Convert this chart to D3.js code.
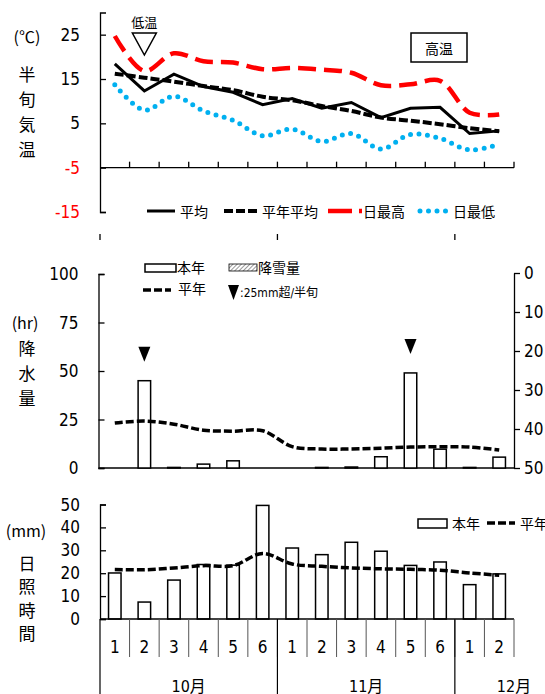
<!DOCTYPE html>
<html lang="ja">
<head>
<meta charset="UTF-8">
<title>半旬気象</title>
<script src="https://cdnjs.cloudflare.com/ajax/libs/d3/7.8.5/d3.min.js"></script>
<style>
  body { margin: 0; background: #fff; }
  svg { display: block; }
  .num { font-family: "Liberation Sans Narrow", "DejaVu Sans Condensed", "Noto Sans CJK JP", sans-serif; }
  .jp { font-family: "Noto Sans CJK JP", sans-serif; }
</style>
</head>
<body>
<svg id="chart" width="545" height="694"></svg>
<script>
// half-month periods (Oct 1 .. Dec 2)
const periods = ['1', '2', '3', '4', '5', '6', '1', '2', '3', '4', '5', '6', '1', '2'];
const monthLabels = ['10月', '11月', '12月'];
const monthSpans = [6, 6, 2];

// temperature (°C)
const tempMean = [18.4, 12.3, 16.1, 13.3, 12.0, 9.2, 10.6, 8.4, 9.7, 6.3, 8.4, 8.6, 2.7, 3.3];
const tempNormal = [16.2, 15.3, 14.4, 13.4, 12.5, 11.0, 10.2, 8.9, 7.8, 6.3, 5.6, 4.8, 3.9, 3.2];
const tempMax = [24.7, 16.8, 20.8, 19.0, 18.7, 17.2, 17.5, 17.1, 16.4, 13.6, 13.8, 14.6, 7.4, 7.0];
const tempMin = [13.7, 8.0, 11.1, 7.8, 5.7, 2.2, 3.7, 0.9, 2.7, -0.8, 2.5, 1.6, -1.0, 0.3];
const tempTicks = [25, 15, 5, -5, -15];

// precipitation
const precip = [0, 45, 0.3, 2, 3.7, 0, 0, 0.3, 0.5, 5.8, 49, 9.7, 0.3, 5.6];
const precipNormal = [23.2, 24.2, 22.6, 19.5, 19.0, 19.2, 11.0, 9.8, 9.8, 10.2, 10.8, 11.0, 10.8, 9.3];
const heavyRain = [1, 10];
const precipTicks = [0, 25, 50, 75, 100];
const snowTicks = [0, 10, 20, 30, 40, 50];

// sunshine
const sunshine = [20.1, 7.4, 17, 23.8, 23.5, 49.6, 31, 28.1, 33.5, 29.6, 23.4, 24.9, 15, 19.7];
const sunNormal = [21.6, 21.5, 22.3, 23.3, 23.3, 28.6, 24, 23, 22.3, 21.9, 21.7, 21.3, 20.1, 19.1];
const sunTicks = [0, 10, 20, 30, 40, 50];

const svg = d3.select('#chart');
const idx = d3.range(periods.length);
const x = d3.scaleBand().domain(idx).range([100, 514]);
const cx = i => x(i) + x.bandwidth() / 2;
const smooth = d3.curveCatmullRom.alpha(0.5);

function vlabel(chars, xPos, y0, step) {
  chars.split('').forEach((c, k) => {
    svg.append('text').attr('class', 'jp').attr('x', xPos).attr('y', y0 + k * step)
      .attr('text-anchor', 'middle').attr('dominant-baseline', 'central')
      .attr('font-size', 17).text(c);
  });
}

function leftAxis(scale, ticks, xPos, colorFn) {
  const g = svg.append('g').attr('transform', `translate(${xPos},0)`);
  g.call(d3.axisRight(scale).tickValues(ticks).tickSize(6).tickFormat(''));
  g.select('.domain').attr('stroke', '#000').attr('stroke-width', 1.3);
  g.selectAll('.tick line').attr('stroke', '#000').attr('stroke-width', 1.3);
  ticks.forEach(t => {
    svg.append('text').attr('class', 'num').attr('x', xPos - 20).attr('y', scale(t))
      .attr('text-anchor', 'end').attr('dominant-baseline', 'central')
      .attr('font-size', 17).attr('fill', colorFn ? colorFn(t) : '#000').text(t);
  });
  return g;
}

// ---------- temperature panel ----------
const yT = d3.scaleLinear().domain([-15, 30]).range([212, 12.5]);
leftAxis(yT, tempTicks, 100, t => t < 0 ? '#ff0000' : '#000');
svg.append('line').attr('x1', 100).attr('x2', 514).attr('y1', yT(-5)).attr('y2', yT(-5))
  .attr('stroke', '#000').attr('stroke-width', 1.3);
idx.forEach(i => {
  const xx = x(i) + x.bandwidth();
  svg.append('line').attr('x1', xx).attr('x2', xx).attr('y1', yT(-5) - 6).attr('y2', yT(-5))
    .attr('stroke', '#000').attr('stroke-width', 1.3);
});

const lineT = (curve) => d3.line().x((d, i) => cx(i)).y(d => yT(d)).curve(curve);
svg.append('path').datum(tempMax).attr('d', lineT(smooth)).attr('fill', 'none')
  .attr('stroke', '#ff0000').attr('stroke-width', 4.5).attr('stroke-dasharray', '18,8');
svg.append('path').datum(tempMin).attr('d', lineT(smooth)).attr('fill', 'none')
  .attr('stroke', '#00b0f0').attr('stroke-width', 5).attr('stroke-linecap', 'round')
  .attr('stroke-dasharray', '0,8.5');
svg.append('path').datum(tempNormal).attr('d', lineT(smooth)).attr('fill', 'none')
  .attr('stroke', '#000').attr('stroke-width', 4).attr('stroke-dasharray', '9,3');
svg.append('path').datum(tempMean).attr('d', lineT(d3.curveLinear)).attr('fill', 'none')
  .attr('stroke', '#000').attr('stroke-width', 3);

// annotations
svg.append('text').attr('class', 'jp').attr('x', cx(1)).attr('y', 21)
  .attr('text-anchor', 'middle').attr('dominant-baseline', 'central').attr('font-size', 13).text('低温');
svg.append('path').attr('d', `M${cx(1) - 12},33 L${cx(1) + 12},33 L${cx(1)},55 Z`)
  .attr('fill', '#fff').attr('stroke', '#000').attr('stroke-width', 1.5);
svg.append('rect').attr('x', 411).attr('y', 33).attr('width', 56).attr('height', 29)
  .attr('fill', '#fff').attr('stroke', '#000').attr('stroke-width', 1.5);
svg.append('text').attr('class', 'jp').attr('x', 439).attr('y', 47.5)
  .attr('text-anchor', 'middle').attr('dominant-baseline', 'central').attr('font-size', 14).text('高温');

svg.append('text').attr('class', 'jp').attr('x', 27).attr('y', 36)
  .attr('text-anchor', 'middle').attr('dominant-baseline', 'central').attr('font-size', 16).text('(℃)');
vlabel('半旬気温', 27, 73, 25);

// legend
const legT = [
  { x1: 147, x2: 175, tx: 180, label: '平均', stroke: '#000', w: 3, dash: null, cap: 'butt' },
  { x1: 224, x2: 258, tx: 262, label: '平年平均', stroke: '#000', w: 4, dash: '9,3', cap: 'butt' },
  { x1: 328, x2: 362, tx: 363, label: '日最高', stroke: '#ff0000', w: 4.5, dash: '24,7', cap: 'butt' },
  { x1: 420, x2: 447, tx: 453, label: '日最低', stroke: '#00b0f0', w: 5, dash: '0,8.5', cap: 'round' }
];
legT.forEach(l => {
  svg.append('line').attr('x1', l.x1).attr('x2', l.x2).attr('y1', 211).attr('y2', 211)
    .attr('stroke', l.stroke).attr('stroke-width', l.w).attr('stroke-dasharray', l.dash)
    .attr('stroke-linecap', l.cap);
  svg.append('text').attr('class', 'jp').attr('x', l.tx).attr('y', 211)
    .attr('dominant-baseline', 'central').attr('font-size', 14).text(l.label);
});

// leftover ticks between panels
[0, 6, 12].forEach(i => {
  svg.append('line').attr('x1', x(i)).attr('x2', x(i)).attr('y1', 234).attr('y2', 240)
    .attr('stroke', '#000').attr('stroke-width', 1.3);
});

// ---------- precipitation panel ----------
const yP = d3.scaleLinear().domain([0, 100]).range([468, 274]);
const yS = d3.scaleLinear().domain([0, 50]).range([273, 468]);
leftAxis(yP, precipTicks, 98.5);
const gr = svg.append('g').attr('transform', 'translate(514,0)')
  .call(d3.axisRight(yS).tickValues(snowTicks).tickSize(6).tickSizeOuter(0).tickPadding(4));
gr.select('.domain').attr('stroke', '#000').attr('stroke-width', 1.3);
gr.selectAll('.tick line').attr('stroke', '#000').attr('stroke-width', 1.3);
gr.selectAll('.tick text').attr('class', 'num').attr('font-size', 17).attr('fill', '#000');
svg.append('line').attr('x1', 98.5).attr('x2', 514).attr('y1', yP(0)).attr('y2', yP(0))
  .attr('stroke', '#000').attr('stroke-width', 1.3);

const bw = 12.5;
svg.append('g').selectAll('rect').data(precip).join('rect')
  .attr('x', (d, i) => cx(i) - bw / 2).attr('y', d => yP(d))
  .attr('width', bw).attr('height', d => yP(0) - yP(d))
  .attr('fill', '#fff').attr('stroke', '#000').attr('stroke-width', 1.5);
svg.append('path').datum(precipNormal)
  .attr('d', d3.line().x((d, i) => cx(i)).y(d => yP(d)).curve(smooth))
  .attr('fill', 'none').attr('stroke', '#000').attr('stroke-width', 3.5).attr('stroke-dasharray', '8,3');
heavyRain.forEach(i => {
  const top = yP(precip[i]) - 34;
  svg.append('path').attr('d', `M${cx(i) - 6},${top} L${cx(i) + 6},${top} L${cx(i)},${top + 15} Z`)
    .attr('fill', '#000');
});

svg.append('text').attr('class', 'jp').attr('x', 25).attr('y', 322)
  .attr('text-anchor', 'middle').attr('dominant-baseline', 'central').attr('font-size', 16).text('(hr)');
vlabel('降水量', 27, 347, 25);

// legend
const defs = svg.append('defs');
const pat = defs.append('pattern').attr('id', 'hatch').attr('patternUnits', 'userSpaceOnUse')
  .attr('width', 3).attr('height', 3).attr('patternTransform', 'rotate(45)');
pat.append('line').attr('x1', 0).attr('y1', 0).attr('x2', 0).attr('y2', 3)
  .attr('stroke', '#000').attr('stroke-width', 0.8);
svg.append('rect').attr('x', 145).attr('y', 264).attr('width', 31).attr('height', 8)
  .attr('fill', '#fff').attr('stroke', '#000').attr('stroke-width', 1.5);
svg.append('text').attr('class', 'jp').attr('x', 177).attr('y', 267)
  .attr('dominant-baseline', 'central').attr('font-size', 14).text('本年');
svg.append('rect').attr('x', 229).attr('y', 264).attr('width', 28).attr('height', 7)
  .attr('fill', 'url(#hatch)').attr('stroke', '#000').attr('stroke-width', 0.8);
svg.append('text').attr('class', 'jp').attr('x', 258).attr('y', 267)
  .attr('dominant-baseline', 'central').attr('font-size', 14).text('降雪量');
svg.append('line').attr('x1', 143).attr('x2', 171).attr('y1', 290).attr('y2', 290)
  .attr('stroke', '#000').attr('stroke-width', 3.5).attr('stroke-dasharray', '8,3');
svg.append('text').attr('class', 'jp').attr('x', 178).attr('y', 288)
  .attr('dominant-baseline', 'central').attr('font-size', 14).text('平年');
svg.append('path').attr('d', 'M228,285 L239,285 L233.5,300 Z').attr('fill', '#000');
svg.append('text').attr('class', 'num').attr('x', 240).attr('y', 293)
  .attr('dominant-baseline', 'central').attr('font-size', 12).text(':25mm超/半旬');

// ---------- sunshine panel ----------
const yH = d3.scaleLinear().domain([0, 50]).range([619, 504.5]);
leftAxis(yH, sunTicks, 100);
svg.append('g').selectAll('rect').data(sunshine).join('rect')
  .attr('x', (d, i) => cx(i) - bw / 2).attr('y', d => yH(d))
  .attr('width', bw).attr('height', d => yH(0) - yH(d))
  .attr('fill', '#fff').attr('stroke', '#000').attr('stroke-width', 1.5);
svg.append('path').datum(sunNormal)
  .attr('d', d3.line().x((d, i) => cx(i)).y(d => yH(d)).curve(smooth))
  .attr('fill', 'none').attr('stroke', '#000').attr('stroke-width', 3.5).attr('stroke-dasharray', '8,3');

svg.append('text').attr('class', 'jp').attr('x', 26).attr('y', 530)
  .attr('text-anchor', 'middle').attr('dominant-baseline', 'central').attr('font-size', 16).text('(mm)');
vlabel('日照時間', 27, 562, 23.5);

svg.append('rect').attr('x', 418).attr('y', 519).attr('width', 29).attr('height', 9)
  .attr('fill', '#fff').attr('stroke', '#000').attr('stroke-width', 1.5);
svg.append('text').attr('class', 'jp').attr('x', 452).attr('y', 523)
  .attr('dominant-baseline', 'central').attr('font-size', 14).text('本年');
svg.append('line').attr('x1', 487).attr('x2', 515).attr('y1', 523).attr('y2', 523)
  .attr('stroke', '#000').attr('stroke-width', 3.5).attr('stroke-dasharray', '8,3');
svg.append('text').attr('class', 'jp').attr('x', 520).attr('y', 523)
  .attr('dominant-baseline', 'central').attr('font-size', 14).text('平年');

// ---------- category table ----------
svg.append('line').attr('x1', 100).attr('x2', 514).attr('y1', 619).attr('y2', 619)
  .attr('stroke', '#000').attr('stroke-width', 1.3);
idx.forEach(i => {
  const xx = x(i) + x.bandwidth();
  svg.append('line').attr('x1', xx).attr('x2', xx).attr('y1', 619).attr('y2', 657)
    .attr('stroke', '#555').attr('stroke-width', 1);
  svg.append('text').attr('class', 'num').attr('x', cx(i)).attr('y', 647)
    .attr('text-anchor', 'middle').attr('dominant-baseline', 'central').attr('font-size', 17)
    .text(periods[i]);
});
let start = 0;
monthLabels.forEach((m, k) => {
  const x0 = x(start);
  svg.append('line').attr('x1', x0).attr('x2', x0).attr('y1', 619).attr('y2', 694)
    .attr('stroke', '#000').attr('stroke-width', 1.2);
  const lx = monthSpans[k] === 6 ? x0 + 3 * x.bandwidth() : x0 + monthSpans[k] * x.bandwidth();
  svg.append('text').attr('class', 'num').attr('x', lx).attr('y', 686)
    .attr('text-anchor', 'middle').attr('dominant-baseline', 'central').attr('font-size', 16)
    .text(m);
  start += monthSpans[k];
});
</script>
</body>
</html>
